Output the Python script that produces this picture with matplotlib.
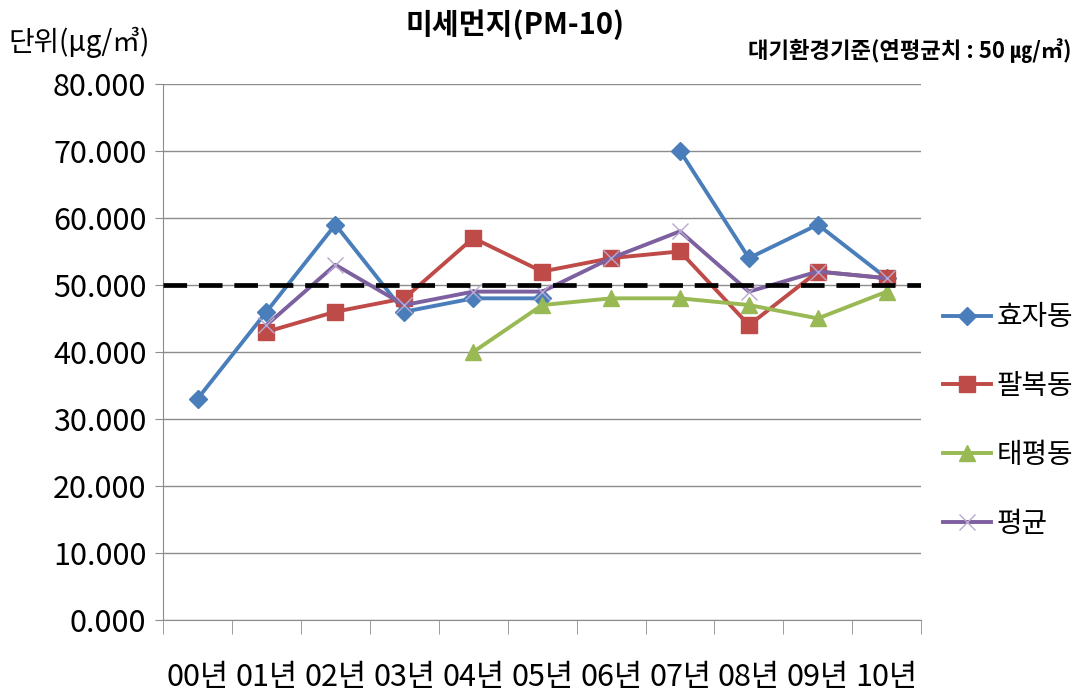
import numpy as np
import matplotlib
matplotlib.use('Agg')
import matplotlib.pyplot as plt

plt.rcParams['font.family'] = ['Noto Sans CJK KR', 'DejaVu Sans']

# annual PM-10 averages per station
years = ['00년', '01년', '02년', '03년', '04년', '05년', '06년', '07년', '08년', '09년', '10년']
hyoja = [33, 46, 59, 46, 48, 48, np.nan, 70, 54, 59, 51]
palbok = [np.nan, 43, 46, 48, 57, 52, 54, 55, 44, 52, 51]
taepyeong = [np.nan, np.nan, np.nan, np.nan, 40, 47, 48, 48, 47, 45, 49]
average = [np.nan, 44, 53, 47, 49, 49, 54, 58, 49, 52, 51]
standard = 50

fig = plt.figure(figsize=(10.8, 6.99), dpi=100)
ax = fig.add_axes([0.151, 0.113, 0.702, 0.767])

x = np.arange(len(years))
lw = 2.8
ax.plot(x, hyoja, color='#4A7EBB', lw=lw, marker='D', ms=9, label='효자동')
ax.plot(x, palbok, color='#BE4B48', lw=lw, marker='s', ms=11, label='팔복동')
ax.plot(x, taepyeong, color='#98B954', lw=lw, marker='^', ms=11, label='태평동')
ax.plot(x, average, color='#7D60A0', lw=lw, marker='x', ms=11, mew=1, mec='#B8A8D0', label='평균')
ax.axhline(standard, color='black', lw=3.4, ls=(0, (5, 2.5)), zorder=5)

ax.set_xlim(-0.5, len(years) - 0.5)
ax.set_ylim(0, 80)
ax.set_yticks(np.arange(0, 81, 10))
ax.set_yticklabels([f'{v:.3f}' for v in np.arange(0, 81, 10)], fontsize=22, fontweight='medium')
ax.yaxis.grid(True, color='#8C8C8C', lw=1)
ax.set_axisbelow(True)

ax.set_xticks(x)
ax.set_xticklabels(years, fontsize=22, fontweight='medium')
ax.set_xticks(np.arange(-0.5, len(years)), minor=True)
ax.tick_params(axis='x', which='major', length=0, pad=30)
ax.tick_params(axis='x', which='minor', length=10, color='#8C8C8C', direction='out')
ax.tick_params(axis='y', length=6, color='#8C8C8C', pad=6)

for s in ['top', 'right']:
    ax.spines[s].set_visible(False)
for s in ['left', 'bottom']:
    ax.spines[s].set_color('#8C8C8C')

leg = ax.legend(loc='center left', bbox_to_anchor=(1.0, 0.372), frameon=False,
                prop={'size': 20, 'weight': 'medium'}, handlelength=1.7,
                handletextpad=0.2, labelspacing=1.4, borderaxespad=0.4)

fig.text(0.477, 0.965, '미세먼지(PM-10)', ha='center', va='center', fontsize=21, fontweight='bold')
fig.text(0.008, 0.94, '단위(μg/㎥)', ha='left', va='center', fontsize=20)
fig.text(0.992, 0.928, '대기환경기준(연평균치 : 50 ㎍/㎥)', ha='right', va='center',
         fontsize=16, fontweight='bold')

fig.savefig('out.png', dpi=100)
